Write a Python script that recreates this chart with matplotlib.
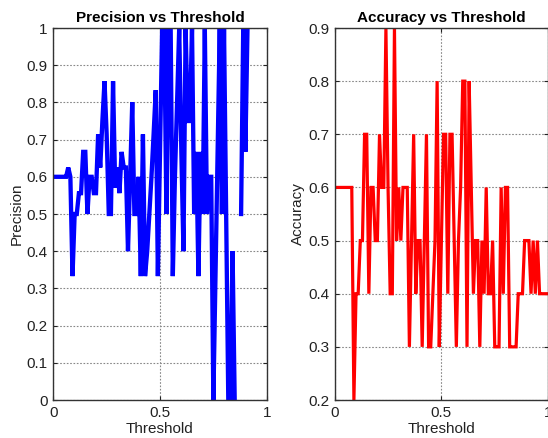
import numpy as np
import matplotlib
matplotlib.use("Agg")
import matplotlib.pyplot as plt

plt.rcParams['font.family'] = ['Liberation Sans', 'DejaVu Sans']

nan = np.nan
threshold = np.linspace(0, 1, 101)

precision = [
    0.6, 0.6, 0.6, 0.6, 0.6, 0.6, 0.6, 0.625, 0.6, 0.333,
    0.5, 0.5, 0.556, 0.556, 0.667, 0.667, 0.5, 0.6, 0.6, 0.556,
    0.556, 0.714, 0.625, 0.75, 0.857, 0.714, 0.5, 0.5, 0.857, 0.571,
    0.625, 0.556, 0.667, 0.625, 0.625, 0.4, 0.6, 0.8, 0.5, 0.5,
    0.6, 0.333, 0.714, 0.333, 0.4, 0.5, 0.6, 0.714, 0.833, 0.333,
    0.667, 1.0, 1.0, 0.5, 1.0, 1.0, 0.333, 0.6, 0.8, 1.0,
    0.667, 0.4, 1.0, 0.75, 0.75, 1.0, 0.5, 0.667, 0.333, 0.667,
    0.5, 1.0, 0.5, 0.6, 0.6, 0.0, 0.333, 0.667, 1.0, 0.5,
    1.0, 0.5, 0.0, 0.0, 0.4, 0.0, nan, nan, 0.5, 1.0,
    0.667, 1.0, nan, nan, nan, nan, nan, nan, nan, nan,
    nan,
]

accuracy = [
    0.6, 0.6, 0.6, 0.6, 0.6, 0.6, 0.6, 0.6, 0.6, 0.2,
    0.4, 0.4, 0.5, 0.5, 0.7, 0.7, 0.4, 0.6, 0.6, 0.5,
    0.5, 0.7, 0.6, 0.6, 0.9, 0.6, 0.4, 0.4, 0.9, 0.5,
    0.6, 0.5, 0.6, 0.6, 0.6, 0.3, 0.5, 0.7, 0.4, 0.5,
    0.5, 0.3, 0.5, 0.7, 0.3, 0.3, 0.4, 0.5, 0.8, 0.3,
    0.5, 0.7, 0.7, 0.4, 0.7, 0.7, 0.5, 0.3, 0.5, 0.6,
    0.8, 0.8, 0.3, 0.8, 0.6, 0.4, 0.5, 0.5, 0.3, 0.5,
    0.4, 0.6, 0.4, 0.4, 0.5, 0.3, 0.3, 0.3, 0.6, 0.4,
    0.6, 0.6, 0.3, 0.3, 0.3, 0.3, 0.4, 0.4, 0.4, 0.5,
    0.5, 0.5, 0.4, 0.5, 0.4, 0.5, 0.4, 0.4, 0.4, 0.4,
    0.4,
]

prec_yticks = [0, 0.1, 0.2, 0.3, 0.4, 0.5, 0.6, 0.7, 0.8, 0.9, 1]
prec_ylabels = ["0", "0.1", "0.2", "0.3", "0.4", "0.5", "0.6", "0.7", "0.8", "0.9", "1"]
acc_yticks = [0.2, 0.3, 0.4, 0.5, 0.6, 0.7, 0.8, 0.9]
acc_ylabels = ["0.2", "0.3", "0.4", "0.5", "0.6", "0.7", "0.8", "0.9"]
xticks = [0, 0.5, 1]
xlabels = ["0", "0.5", "1"]

fig = plt.figure(figsize=(5.48, 4.38), dpi=100)
W, H = 548, 438
ax1 = fig.add_axes([53.3 / W, 38 / H, 213.4 / W, 372 / H])
ax2 = fig.add_axes([334.7 / W, 38 / H, 213.4 / W, 372 / H])


def style(ax, yt, yl, ylim):
    ax.set_xlim(0, 1)
    ax.set_ylim(*ylim)
    ax.set_xticks(xticks)
    ax.set_xticklabels(xlabels)
    ax.set_yticks(yt)
    ax.set_yticklabels(yl)
    ax.grid(True, linestyle=(0, (1.5, 1.5)), color='#888888', linewidth=0.8)
    ax.tick_params(direction='in', top=True, right=True, length=3,
                   labelsize=11, colors='#222222', pad=4)
    for s in ax.spines.values():
        s.set_color('#333333')
        s.set_linewidth(1.0)
    ax.set_axisbelow(True)


ax1.plot(threshold, precision, color='#0000ff', linewidth=3.1, solid_joinstyle='miter')
style(ax1, prec_yticks, prec_ylabels, (0, 1))
ax1.set_title("Precision vs Threshold", fontsize=11, fontweight='bold', pad=4)
ax1.set_xlabel("Threshold", fontsize=11, color='#222222', labelpad=2)
ax1.set_ylabel("Precision", fontsize=11, color='#222222', labelpad=2)

ax2.plot(threshold, accuracy, color='#ff0000', linewidth=2.3, solid_joinstyle='miter')
style(ax2, acc_yticks, acc_ylabels, (0.2, 0.9))
ax2.set_title("Accuracy vs Threshold", fontsize=11, fontweight='bold', pad=4)
ax2.set_xlabel("Threshold", fontsize=11, color='#222222', labelpad=2)
ax2.set_ylabel("Accuracy", fontsize=11, color='#222222', labelpad=2)

fig.savefig("out.png", dpi=100)
